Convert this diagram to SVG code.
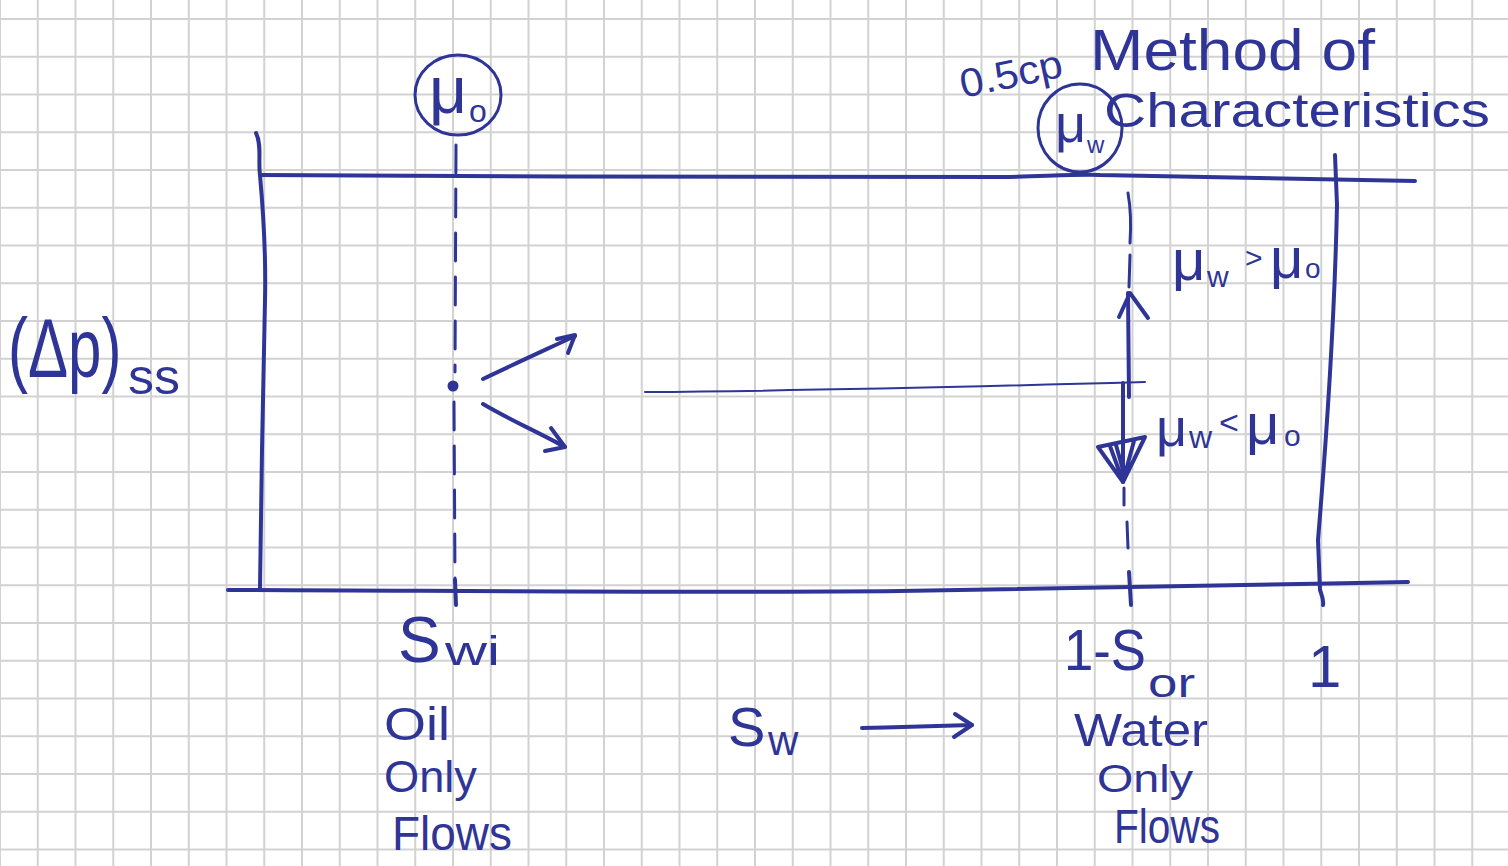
<svg xmlns="http://www.w3.org/2000/svg" width="1508" height="866" viewBox="0 0 1508 866">
  <defs>
    <!-- graph paper: light grey squares, 37.75 px pitch -->
    <pattern id="paper" width="37.75" height="37.75" patternUnits="userSpaceOnUse" x="-18.875" y="0.125">
      <path d="M18.875,0 V37.75 M0,18.875 H37.75" stroke="#d2d2d2" stroke-width="2" fill="none"/>
    </pattern>
    <style>
      .ink{fill:none;stroke:#2f3596;stroke-width:4;stroke-linecap:round;stroke-linejoin:round}
      .thin{stroke-width:2}
      .dash{stroke-dasharray:28 16}
      .t{font-family:"Liberation Sans","DejaVu Sans",sans-serif;fill:#2f3596}
    </style>
  </defs>

  <rect width="1508" height="866" fill="#ffffff"/>
  <rect width="1508" height="866" fill="url(#paper)"/>

  <!-- plot box: top, bottom and side edges -->
  <g id="frame" class="ink">
    <path d="M260,175 C500,176 800,178 1010,177 C1050,176 1080,174 1100,175 C1250,178 1350,180 1415,181"/>
    <path d="M228,590 C500,591 700,593 900,591 C1100,588 1250,585 1408,582"/>
    <path d="M256,133 C262,145 258,160 260,175 C264,220 266,260 265,300 L262,450 L260,588"/>
    <path d="M1335,155 L1337,205 C1335,300 1328,420 1318,540 L1320,590 C1322,596 1324,600 1323,605"/>
  </g>

  <!-- vertical dashed guides at Swi and 1-Sor -->
  <g id="guides" class="ink">
    <path class="dash" style="stroke-width:3" d="M456,145 L455,372"/>
    <path class="dash" style="stroke-width:3" d="M454,402 L455,580"/>
    <path d="M455,580 L456,605"/>
    <path style="stroke-width:3" d="M1128,193 C1131,210 1131,228 1130,243"/>
    <path style="stroke-width:3" d="M1130,255 L1129,287"/>
    <path style="stroke-width:3" d="M1124,488 L1124,505"/>
    <path style="stroke-width:3" d="M1127,522 L1128,548"/>
    <path d="M1129,572 L1131,605"/>
  </g>

  <!-- Swi operating point -->
  <g id="point-swi">
    <circle cx="453" cy="386" r="4.5" fill="#2f3596" stroke="#2f3596" stroke-width="2"/>
  </g>

  <!-- direction arrows -->
  <g id="connectors" class="ink">
    <path d="M483,379 C510,366 545,350 575,336"/>
    <path d="M557,339 L575,335 L568,353"/>
    <path d="M483,404 C510,420 540,433 565,447"/>
    <path d="M551,428 L565,447 L545,451"/>
    <path class="thin" d="M645,392 C800,391 1000,386 1145,382"/>
    <path d="M1129,397 L1128,293"/>
    <path d="M1119,317 L1130,293 L1148,318"/>
    <path d="M1123,383 L1123,482"/>
    <path d="M1098,447 L1145,437 M1098,447 L1123,482 L1145,437 M1110,446 L1121,476 M1134,441 L1125,474 M1116,445 L1123,470"/>
    <path d="M862,728 C900,727 940,726 972,725"/>
    <path d="M955,714 L972,725 L954,737"/>
  </g>

  <!-- y-axis label: tall, narrow lettering -->
  <g id="label-dp">
    <text class="t" font-size="60" transform="translate(8,377) scale(1,1.4)">(Δp)</text>
    <text class="t" x="128" y="394" font-size="50" textLength="52" lengthAdjust="spacingAndGlyphs">ss</text>
  </g>

  <!-- oil viscosity, circled -->
  <g id="mu-o">
    <ellipse cx="458" cy="95" rx="43" ry="40" class="ink" style="stroke-width:3"/>
    <text class="t" x="429" y="113" font-size="66">μ</text>
    <text class="t" x="469" y="122" font-size="32">o</text>
  </g>

  <!-- water viscosity, circled, with its value -->
  <g id="mu-w">
    <ellipse cx="1080" cy="128" rx="42" ry="44" class="ink" style="stroke-width:3"/>
    <text class="t" x="1055" y="142" font-size="54">μ</text>
    <text class="t" x="1087" y="153" font-size="24">w</text>
    <text class="t" x="963" y="98" font-size="40" textLength="104" lengthAdjust="spacingAndGlyphs" transform="rotate(-12 963 98)">0.5cp</text>
  </g>

  <g id="title">
    <text class="t" x="1090" y="70" font-size="58" textLength="285" lengthAdjust="spacingAndGlyphs">Method of</text>
    <text class="t" x="1104" y="127" font-size="48" textLength="386" lengthAdjust="spacingAndGlyphs">Characteristics</text>
  </g>

  <!-- viscosity ratio cases -->
  <g id="case-high">
    <text class="t" x="1172" y="280" font-size="58">μ</text>
    <text class="t" x="1207" y="287" font-size="30">w</text>
    <text class="t" x="1245" y="268" font-size="30">&gt;</text>
    <text class="t" x="1270" y="278" font-size="58">μ</text>
    <text class="t" x="1305" y="278" font-size="28">o</text>
  </g>
  <g id="case-low">
    <text class="t" x="1156" y="446" font-size="54">μ</text>
    <text class="t" x="1189" y="448" font-size="32">w</text>
    <text class="t" x="1219" y="434" font-size="34">&lt;</text>
    <text class="t" x="1246" y="444" font-size="58">μ</text>
    <text class="t" x="1284" y="446" font-size="30">o</text>
  </g>

  <!-- x-axis labels -->
  <g id="label-swi">
    <text class="t" x="398" y="662" font-size="64">S</text>
    <text class="t" x="445" y="665" font-size="40" textLength="55" lengthAdjust="spacingAndGlyphs">wi</text>
  </g>
  <g id="label-oil">
    <text class="t" x="384" y="740" font-size="46" textLength="66" lengthAdjust="spacingAndGlyphs">Oil</text>
    <text class="t" x="384" y="792" font-size="44" textLength="93" lengthAdjust="spacingAndGlyphs">Only</text>
    <text class="t" x="392" y="850" font-size="48" textLength="120" lengthAdjust="spacingAndGlyphs">Flows</text>
  </g>
  <g id="label-sw">
    <text class="t" x="728" y="746" font-size="56">S</text>
    <text class="t" x="768" y="755" font-size="42">w</text>
  </g>
  <g id="label-sor">
    <text class="t" x="1064" y="670" font-size="58" textLength="82" lengthAdjust="spacingAndGlyphs">1-S</text>
    <text class="t" x="1148" y="697" font-size="40" textLength="47" lengthAdjust="spacingAndGlyphs">or</text>
  </g>
  <g id="label-water">
    <text class="t" x="1074" y="746" font-size="46" textLength="134" lengthAdjust="spacingAndGlyphs">Water</text>
    <text class="t" x="1097" y="792" font-size="38" textLength="96" lengthAdjust="spacingAndGlyphs">Only</text>
    <text class="t" x="1114" y="843" font-size="48" textLength="106" lengthAdjust="spacingAndGlyphs">Flows</text>
  </g>
  <g id="label-one">
    <text class="t" x="1308" y="687" font-size="60">1</text>
  </g>
</svg>
